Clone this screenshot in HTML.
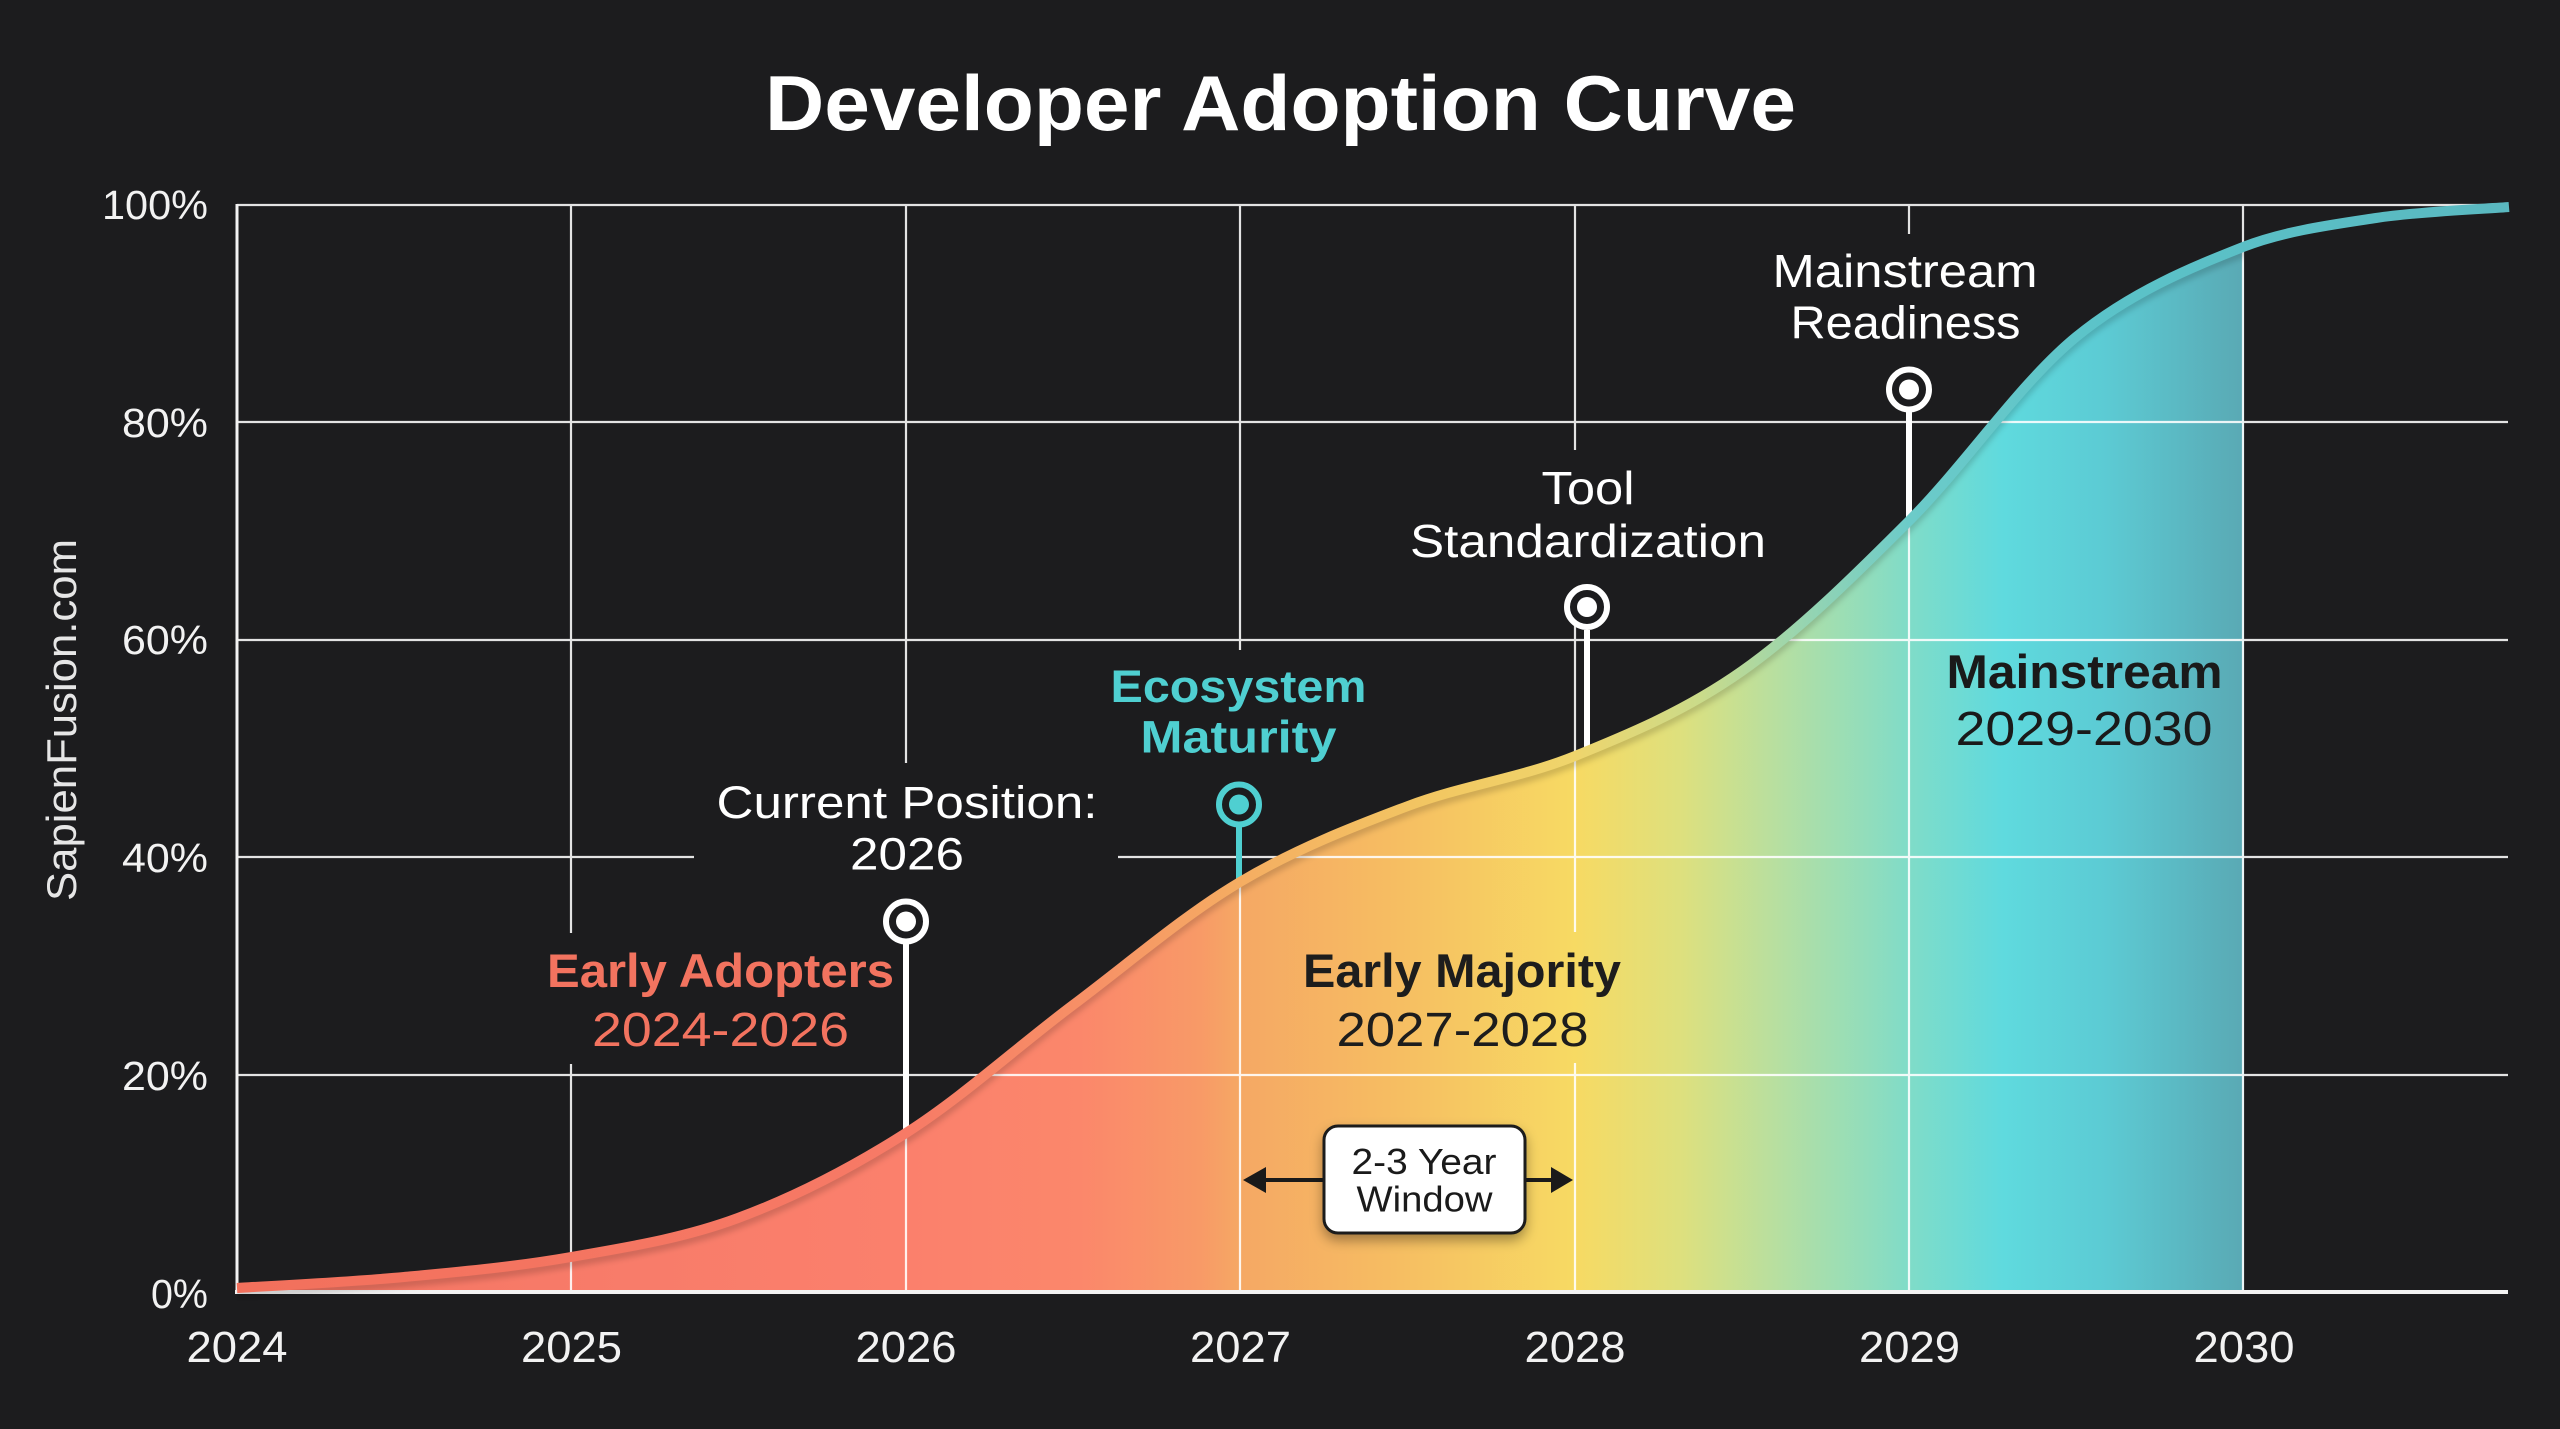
<!DOCTYPE html>
<html>
<head>
<meta charset="utf-8">
<style>
html,body{margin:0;padding:0;background:#1c1c1e;}
svg{display:block;}
text{font-family:"Liberation Sans",Arial,sans-serif;}
</style>
</head>
<body>
<svg width="2560" height="1429" viewBox="0 0 2560 1429" xmlns="http://www.w3.org/2000/svg">
<defs>
  <linearGradient id="fillG" gradientUnits="userSpaceOnUse" x1="237" y1="0" x2="2244" y2="0">
    <stop offset="0" stop-color="#f47461"/>
    <stop offset="0.2" stop-color="#f87c6a"/>
    <stop offset="0.333" stop-color="#fb806c"/>
    <stop offset="0.42" stop-color="#fb876b"/>
    <stop offset="0.48" stop-color="#f89a67"/>
    <stop offset="0.5" stop-color="#f5a864"/>
    <stop offset="0.58" stop-color="#f6be62"/>
    <stop offset="0.667" stop-color="#f7da63"/>
    <stop offset="0.72" stop-color="#dde07e"/>
    <stop offset="0.77" stop-color="#b5dfa2"/>
    <stop offset="0.833" stop-color="#80dcc8"/>
    <stop offset="0.88" stop-color="#5fdade"/>
    <stop offset="0.93" stop-color="#5ccbd4"/>
    <stop offset="1" stop-color="#5aa9b4"/>
  </linearGradient>
  <linearGradient id="lineG" gradientUnits="userSpaceOnUse" x1="237" y1="0" x2="2509" y2="0">
    <stop offset="0" stop-color="#f2705c"/>
    <stop offset="0.294" stop-color="#f77a66"/>
    <stop offset="0.38" stop-color="#f79266"/>
    <stop offset="0.441" stop-color="#f5ad62"/>
    <stop offset="0.53" stop-color="#f2c862"/>
    <stop offset="0.589" stop-color="#efd56c"/>
    <stop offset="0.644" stop-color="#cadb8a"/>
    <stop offset="0.688" stop-color="#98d5b0"/>
    <stop offset="0.736" stop-color="#6ccbc9"/>
    <stop offset="0.82" stop-color="#5bc3c9"/>
    <stop offset="1" stop-color="#5ab8c0"/>
  </linearGradient>
  <clipPath id="fillClip"><rect x="237" y="150" width="2007" height="1145"/></clipPath>
  <filter id="sh" x="-20%" y="-20%" width="140%" height="170%">
    <feDropShadow dx="0" dy="6" stdDeviation="6" flood-color="#000" flood-opacity="0.35"/>
  </filter>
  <filter id="blur" x="-5%" y="-5%" width="110%" height="110%">
    <feGaussianBlur stdDeviation="3"/>
  </filter>
</defs>

<rect width="2560" height="1429" fill="#1c1c1e"/>

<!-- Title -->
<text x="1280.5" y="130" text-anchor="middle" font-size="78" font-weight="700" fill="#ffffff" textLength="1031" lengthAdjust="spacingAndGlyphs">Developer Adoption Curve</text>

<!-- Filled area -->
<path clip-path="url(#fillClip)" fill="url(#fillG)" d="M237,1288 C264.8,1286.2 348.3,1282.2 404,1277 C459.7,1271.8 515.3,1266.8 571,1257 C626.7,1247.2 682.2,1238.7 738,1218 C793.8,1197.3 850.2,1168.5 906,1133 C961.8,1097.5 1017.3,1046.8 1073,1005 C1128.7,963.2 1184.2,915.2 1240,882 C1295.8,848.8 1352.2,827 1408,806 C1463.8,785 1519.3,778.5 1575,756 C1630.7,733.5 1686.3,710.2 1742,671 C1797.7,631.8 1853.3,576.7 1909,521 C1964.7,465.3 2020.3,382.7 2076,337 C2131.7,291.3 2193,266.8 2243,247 C2283,231.2 2331.7,224.7 2376,218 C2420.3,211.3 2486.8,208.8 2509,207 L2509,1293 L237,1293 Z"/>

<!-- Gridlines -->
<path fill="none" stroke="#ffffff" stroke-opacity="0.88" stroke-width="2.2" d="
M237,205H2508 M237,422H2508 M237,640H2508 M237,857H694 M1118,857H2508 M237,1075H2508
M571,205V933 M571,1064V1293
M906,205V763 M906,1133V1293
M1240,205V650 M1240,880V1293
M1575,205V450 M1575,590V932 M1575,1063V1293
M1909,205V234 M1909,521V1293
M2243,205V1293"/>
<!-- Axes -->
<path fill="none" stroke="#f2f2f2" stroke-width="3" d="M237,204V1293"/>
<path fill="none" stroke="#f2f2f2" stroke-width="4" d="M235,1292H2508"/>

<!-- Stems -->
<line x1="906" y1="944" x2="906" y2="1133" stroke="#ffffff" stroke-width="6"/>
<line x1="1239" y1="827" x2="1239" y2="884" stroke="#4fcfd1" stroke-width="6"/>
<line x1="1587" y1="630" x2="1587" y2="752" stroke="#ffffff" stroke-width="6"/>
<line x1="1909" y1="412" x2="1909" y2="524" stroke="#ffffff" stroke-width="6"/>

<!-- Curve shadow + curve -->
<path fill="none" stroke="#000" stroke-opacity="0.16" stroke-width="9" transform="translate(0,6)" clip-path="url(#fillClip)" filter="url(#blur)" d="M237,1288 C264.8,1286.2 348.3,1282.2 404,1277 C459.7,1271.8 515.3,1266.8 571,1257 C626.7,1247.2 682.2,1238.7 738,1218 C793.8,1197.3 850.2,1168.5 906,1133 C961.8,1097.5 1017.3,1046.8 1073,1005 C1128.7,963.2 1184.2,915.2 1240,882 C1295.8,848.8 1352.2,827 1408,806 C1463.8,785 1519.3,778.5 1575,756 C1630.7,733.5 1686.3,710.2 1742,671 C1797.7,631.8 1853.3,576.7 1909,521 C1964.7,465.3 2020.3,382.7 2076,337 C2131.7,291.3 2193,266.8 2243,247 C2283,231.2 2331.7,224.7 2376,218 C2420.3,211.3 2486.8,208.8 2509,207"/>
<path fill="none" stroke="url(#lineG)" stroke-width="10" d="M237,1288 C264.8,1286.2 348.3,1282.2 404,1277 C459.7,1271.8 515.3,1266.8 571,1257 C626.7,1247.2 682.2,1238.7 738,1218 C793.8,1197.3 850.2,1168.5 906,1133 C961.8,1097.5 1017.3,1046.8 1073,1005 C1128.7,963.2 1184.2,915.2 1240,882 C1295.8,848.8 1352.2,827 1408,806 C1463.8,785 1519.3,778.5 1575,756 C1630.7,733.5 1686.3,710.2 1742,671 C1797.7,631.8 1853.3,576.7 1909,521 C1964.7,465.3 2020.3,382.7 2076,337 C2131.7,291.3 2193,266.8 2243,247 C2283,231.2 2331.7,224.7 2376,218 C2420.3,211.3 2486.8,208.8 2509,207"/>

<!-- Markers -->
<circle cx="906" cy="921.5" r="20" fill="#1c1c1e" stroke="#ffffff" stroke-width="6"/>
<circle cx="906" cy="921.5" r="10" fill="#ffffff"/>
<circle cx="1239" cy="804.5" r="20" fill="#1c1c1e" stroke="#4fcfd1" stroke-width="6"/>
<circle cx="1239" cy="804.5" r="10" fill="#4fcfd1"/>
<circle cx="1587" cy="607" r="20" fill="#1c1c1e" stroke="#ffffff" stroke-width="6"/>
<circle cx="1587" cy="607" r="10" fill="#ffffff"/>
<circle cx="1909" cy="389.5" r="20" fill="#1c1c1e" stroke="#ffffff" stroke-width="6"/>
<circle cx="1909" cy="389.5" r="10" fill="#ffffff"/>

<!-- Annotation labels -->
<text x="907" y="818" text-anchor="middle" font-size="45" fill="#ffffff" textLength="381" lengthAdjust="spacingAndGlyphs">Current Position:</text>
<text x="907" y="869.5" text-anchor="middle" font-size="45" fill="#ffffff" textLength="114" lengthAdjust="spacingAndGlyphs">2026</text>

<text x="1238.5" y="702" text-anchor="middle" font-size="45" font-weight="700" fill="#4fcfd1" textLength="256" lengthAdjust="spacingAndGlyphs">Ecosystem</text>
<text x="1238.5" y="752.5" text-anchor="middle" font-size="45" font-weight="700" fill="#4fcfd1" textLength="196" lengthAdjust="spacingAndGlyphs">Maturity</text>

<text x="1588" y="504" text-anchor="middle" font-size="46" fill="#ffffff" textLength="93" lengthAdjust="spacingAndGlyphs">Tool</text>
<text x="1588" y="557" text-anchor="middle" font-size="46" fill="#ffffff" textLength="356" lengthAdjust="spacingAndGlyphs">Standardization</text>

<text x="1905" y="287" text-anchor="middle" font-size="46" fill="#ffffff" textLength="265" lengthAdjust="spacingAndGlyphs">Mainstream</text>
<text x="1905.5" y="338.5" text-anchor="middle" font-size="46" fill="#ffffff" textLength="230" lengthAdjust="spacingAndGlyphs">Readiness</text>

<text x="720.5" y="987" text-anchor="middle" font-size="47" font-weight="700" fill="#f2735f" textLength="347" lengthAdjust="spacingAndGlyphs">Early Adopters</text>
<text x="720.5" y="1046" text-anchor="middle" font-size="48" fill="#f2735f" textLength="257" lengthAdjust="spacingAndGlyphs">2024-2026</text>

<text x="1462" y="987" text-anchor="middle" font-size="47" font-weight="700" fill="#1d1d1d" textLength="318" lengthAdjust="spacingAndGlyphs">Early Majority</text>
<text x="1462.5" y="1046" text-anchor="middle" font-size="48" fill="#1d1d1d" textLength="252" lengthAdjust="spacingAndGlyphs">2027-2028</text>

<text x="2084.5" y="688" text-anchor="middle" font-size="47" font-weight="700" fill="#1a1a1a" textLength="276" lengthAdjust="spacingAndGlyphs">Mainstream</text>
<text x="2084" y="745" text-anchor="middle" font-size="48" fill="#1a1a1a" textLength="257" lengthAdjust="spacingAndGlyphs">2029-2030</text>

<!-- 2-3 Year Window -->
<line x1="1260" y1="1180" x2="1326" y2="1180" stroke="#1a1a1a" stroke-width="4"/>
<polygon points="1243,1180 1266,1167 1266,1193" fill="#1a1a1a"/>
<line x1="1523" y1="1180" x2="1556" y2="1180" stroke="#1a1a1a" stroke-width="4"/>
<polygon points="1573,1180 1551,1167 1551,1193" fill="#1a1a1a"/>
<rect x="1324" y="1126" width="201" height="107" rx="14" ry="14" fill="#ffffff" stroke="#1a1a1a" stroke-width="3" filter="url(#sh)"/>
<text x="1424" y="1174" text-anchor="middle" font-size="36" fill="#1a1a1a" textLength="145" lengthAdjust="spacingAndGlyphs">2-3 Year</text>
<text x="1424.5" y="1211.5" text-anchor="middle" font-size="36" fill="#1a1a1a" textLength="136" lengthAdjust="spacingAndGlyphs">Window</text>

<!-- Y axis labels -->
<g font-size="41" fill="#f2f2f2" text-anchor="end">
  <text x="208" y="219" textLength="106" lengthAdjust="spacingAndGlyphs">100%</text>
  <text x="208" y="437" textLength="86" lengthAdjust="spacingAndGlyphs">80%</text>
  <text x="208" y="654" textLength="86" lengthAdjust="spacingAndGlyphs">60%</text>
  <text x="208" y="872" textLength="86" lengthAdjust="spacingAndGlyphs">40%</text>
  <text x="208" y="1090" textLength="86" lengthAdjust="spacingAndGlyphs">20%</text>
  <text x="208" y="1308" textLength="57" lengthAdjust="spacingAndGlyphs">0%</text>
</g>

<!-- X axis labels -->
<g font-size="44" fill="#f2f2f2" text-anchor="middle">
  <text x="237" y="1362" textLength="101" lengthAdjust="spacingAndGlyphs">2024</text>
  <text x="571.5" y="1362" textLength="101" lengthAdjust="spacingAndGlyphs">2025</text>
  <text x="906" y="1362" textLength="101" lengthAdjust="spacingAndGlyphs">2026</text>
  <text x="1240.5" y="1362" textLength="101" lengthAdjust="spacingAndGlyphs">2027</text>
  <text x="1575" y="1362" textLength="101" lengthAdjust="spacingAndGlyphs">2028</text>
  <text x="1909.5" y="1362" textLength="101" lengthAdjust="spacingAndGlyphs">2029</text>
  <text x="2244" y="1362" textLength="101" lengthAdjust="spacingAndGlyphs">2030</text>
</g>

<!-- Watermark -->
<text transform="translate(76,720) rotate(-90)" text-anchor="middle" font-size="42" fill="#e6e6e6" textLength="362" lengthAdjust="spacingAndGlyphs">SapienFusion.com</text>
</svg>
</body>
</html>
